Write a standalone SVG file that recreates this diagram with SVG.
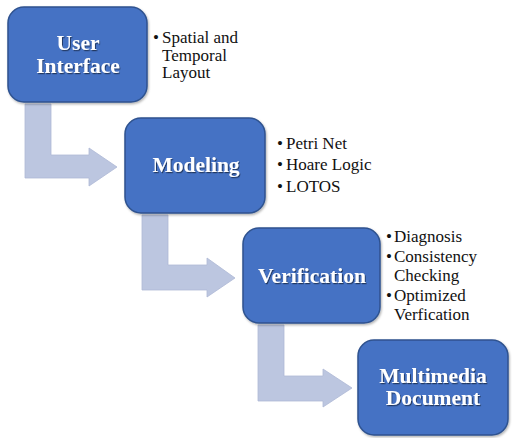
<svg xmlns="http://www.w3.org/2000/svg" width="512" height="438" viewBox="0 0 512 438">
<defs>
<filter id="ts" x="-10%" y="-20%" width="130%" height="150%">
<feDropShadow dx="1" dy="1.2" stdDeviation="0.6" flood-color="#000" flood-opacity="0.5"/>
</filter>
<filter id="bs" x="-10%" y="-10%" width="130%" height="130%">
<feDropShadow dx="1" dy="1.5" stdDeviation="1.2" flood-color="#000" flood-opacity="0.3"/>
</filter>
</defs>
<style>
.box{fill:#4472C4;stroke:#2F528F;stroke-width:1.5}
.arr{fill:#BCC6E0;stroke:#AEB9D6;stroke-width:0.8}
.t{font-family:'Liberation Serif','Times New Roman',serif;font-weight:bold;font-size:21.5px;fill:#fff;text-anchor:middle}
.b{font-family:'Liberation Serif','Times New Roman',serif;font-size:17px;fill:#111}
</style>
<rect width="512" height="438" fill="#fff"/>
<g id="connectors">
<polygon class="arr" points="25,104 51,104 51,155 89,155 89,148 117,167 89,186 89,178 25,178"/>
<polygon class="arr" points="142,215 168,215 168,265 207,265 207,258 235,278 207,297 207,290 142,290"/>
<polygon class="arr" points="258,325 284,325 284,376 323,376 323,369 352,388 323,407 323,401 258,401"/>
</g>
<g id="node-user-interface">
<rect class="box" x="8" y="7" width="139" height="95" rx="16" filter="url(#bs)"/>
<g filter="url(#ts)">
<text class="t" x="78" y="50">User</text>
<text class="t" x="78" y="73">Interface</text>
</g>
<text class="b"><tspan x="153" y="43">•</tspan><tspan x="162" y="43">Spatial and</tspan><tspan x="162" y="61">Temporal</tspan><tspan x="162" y="78">Layout</tspan></text>
</g>
<g id="node-modeling">
<rect class="box" x="125" y="118" width="140" height="95" rx="16" filter="url(#bs)"/>
<text class="t" x="196" y="172" filter="url(#ts)">Modeling</text>
<text class="b"><tspan x="277" y="149">•</tspan><tspan x="286" y="149">Petri Net</tspan><tspan x="277" y="170">•</tspan><tspan x="286" y="170">Hoare Logic</tspan><tspan x="277" y="192">•</tspan><tspan x="286" y="192">LOTOS</tspan></text>
</g>
<g id="node-verification">
<rect class="box" x="243" y="228" width="137" height="95" rx="16" filter="url(#bs)"/>
<text class="t" x="312" y="283" filter="url(#ts)">Verification</text>
<text class="b"><tspan x="386" y="242">•</tspan><tspan x="394" y="242">Diagnosis</tspan><tspan x="386" y="262">•</tspan><tspan x="394" y="262">Consistency</tspan><tspan x="394" y="281">Checking</tspan><tspan x="386" y="301">•</tspan><tspan x="394" y="301">Optimized</tspan><tspan x="394" y="320">Verfication</tspan></text>
</g>
<g id="node-multimedia-document">
<rect class="box" x="358" y="340" width="150" height="95" rx="16" filter="url(#bs)"/>
<g filter="url(#ts)">
<text class="t" x="433" y="383">Multimedia</text>
<text class="t" x="433" y="405">Document</text>
</g>
</g>
</svg>
